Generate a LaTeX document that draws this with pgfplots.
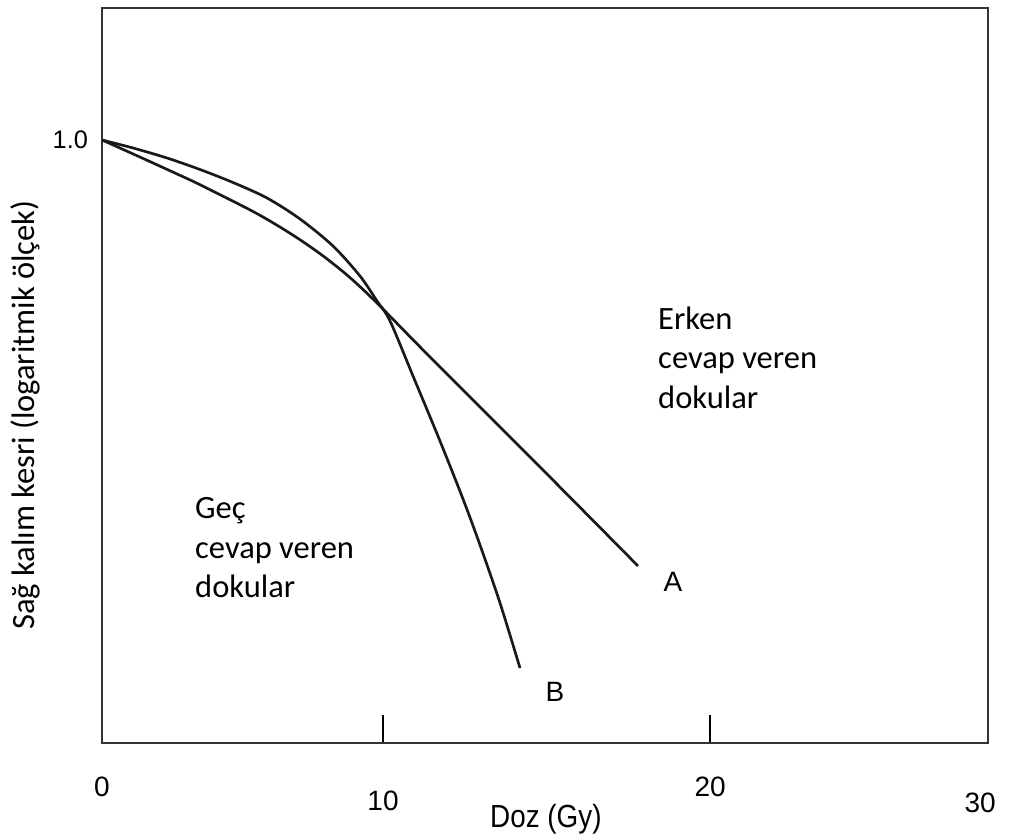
\documentclass[border=0pt]{standalone}
\usepackage{fontspec}
\setmainfont{Carlito}
\newfontfamily\arial{Liberation Sans}
\usepackage{pgfplots}
\pgfplotsset{compat=1.18}
\begin{document}
\begin{tikzpicture}
\begin{axis}[
  scale only axis, width=664.5pt, height=551.25pt,
  xmin=0, xmax=31.53, ymode=log, ymin=0.001, ymax=4.536,
  axis line style={line width=1.8pt, black!80},
  xtick pos=bottom, ytick pos=left,
  xtick={10,21.64},
  xticklabels={\raisebox{-10.5pt}{10},20},
  tick align=inside, major tick length=21pt,
  xtick style={line width=1.5pt, black},
  extra x ticks={0,31.25},
  extra x tick labels={0,\raisebox{-12pt}{30}},
  extra x tick style={major tick length=0pt},
  xticklabel style={anchor=base, yshift=-39.75pt, font=\arial\fontsize{21pt}{21pt}\selectfont},
  ytick={1}, yticklabels={1.0}, yminorticks=false,
  ytick style={draw=none},
  yticklabel style={font=\arial\fontsize{19pt}{19pt}\selectfont, xshift=-7pt},
  xlabel={\scalebox{0.87}[1]{Doz (Gy)}},
  xlabel style={at={(axis description cs:0.501,0)}, anchor=base, yshift=-63pt, font=\arial\fontsize{24pt}{24pt}\selectfont},
  ylabel={Sağ kalım kesri (logaritmik ölçek)},
  ylabel style={at={(axis description cs:0,0.446)}, anchor=center, yshift=57.75pt, font=\fontsize{24.4pt}{24pt}\selectfont},
  clip=false,
]
% Curve A (early responding tissues)
\addplot[line width=2pt, black!90, smooth] coordinates {
  (0,1) (0.8185,0.8888) (1.708,0.7808) (2.598,0.6848) (3.488,0.5993)
  (5.267,0.4490) (6.157,0.3820) (7.046,0.3191) (7.936,0.2606) (8.826,0.2067)
  (9.786,0.1545) (11.673,0.08326) (15.587,0.02361) (19.075,0.007599)
};
% Curve B (late responding tissues)
\addplot[line width=2pt, black!90, smooth] coordinates {
  (0,1) (1.103,0.9125) (2.313,0.8137) (3.488,0.7132) (4.662,0.6146)
  (5.872,0.5146) (7.046,0.4046) (8.221,0.2969) (9.181,0.2106) (9.786,0.1581)
  (10.249,0.1258) (11.068,0.06698) (12.028,0.03181) (12.847,0.01637)
  (13.452,0.009663) (14.164,0.004973) (14.875,0.002361)
};
\node[anchor=north west, inner sep=0pt, align=left, font=\fontsize{24.4pt}{29.5pt}\selectfont]
  at (axis description cs:0.6275,0.5939) {Erken\\cevap veren\\dokular};
\node[anchor=north west, inner sep=0pt, align=left, font=\fontsize{24.4pt}{29.5pt}\selectfont]
  at (axis description cs:0.1049,0.334) {Geç\\cevap veren\\dokular};
\node[font=\arial\fontsize{21pt}{21pt}\selectfont] at (axis description cs:0.6445,0.219) {A};
\node[font=\arial\fontsize{21pt}{21pt}\selectfont] at (axis description cs:0.5113,0.0694) {B};
\end{axis}
\pgfresetboundingbox
\path[use as bounding box] (current axis.south west) ++(-76.5pt,-72pt) rectangle ++(756.75pt,629.25pt);
\end{tikzpicture}
\end{document}
